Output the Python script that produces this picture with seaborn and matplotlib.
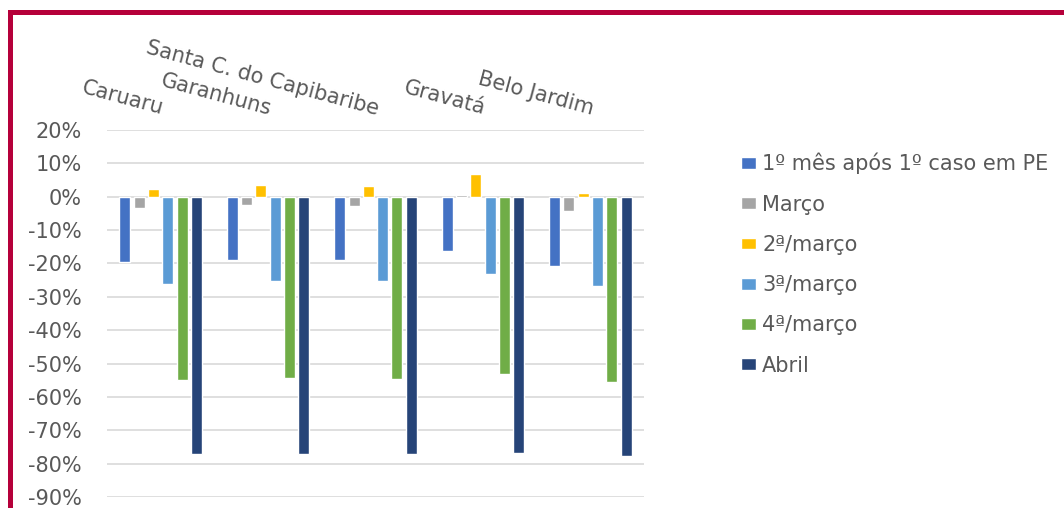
import matplotlib
matplotlib.use("Agg")
import matplotlib.pyplot as plt
from matplotlib.patches import Rectangle
from matplotlib.ticker import FuncFormatter
import pandas as pd
import seaborn as sns

# Municípios and periods compared
cidades = ["Caruaru", "Garanhuns", "Santa C. do Capibaribe", "Gravatá", "Belo Jardim"]
periodos = ["1º mês após 1º caso em PE", "Março", "2ª/março", "3ª/março", "4ª/março", "Abril"]

# Percentage change per period (fractions), one list per period
primeiro_mes = [-0.196, -0.189, -0.189, -0.162, -0.207]
marco = [-0.034, -0.024, -0.027, 0.005, -0.044]
segunda_marco = [0.024, 0.034, 0.031, 0.069, 0.012]
terceira_marco = [-0.261, -0.254, -0.254, -0.231, -0.268]
quarta_marco = [-0.550, -0.544, -0.547, -0.530, -0.555]
abril = [-0.772, -0.772, -0.772, -0.767, -0.776]

cores = ["#4472C4", "#A5A5A5", "#FFC000", "#5B9BD5", "#70AD47", "#264478"]
y_ticks = [-0.9, -0.8, -0.7, -0.6, -0.5, -0.4, -0.3, -0.2, -0.1, 0.0, 0.1, 0.2]

series = [primeiro_mes, marco, segunda_marco, terceira_marco, quarta_marco, abril]
df = pd.DataFrame(
    [(c, p, v) for p, vals in zip(periodos, series) for c, v in zip(cidades, vals)],
    columns=["cidade", "periodo", "valor"],
)

sns.set_style("white")
plt.rcParams["font.family"] = ["DejaVu Sans"]
texto = "#595959"
fs = 15

W, H = 1064, 508
fig = plt.figure(figsize=(W / 100, H / 100), dpi=100)
ax = fig.add_axes([107 / W, 1 - 497 / H, (644 - 107) / W, (497 - 130) / H])

sns.barplot(
    data=df, x="cidade", y="valor", hue="periodo",
    order=cidades, hue_order=periodos, palette=cores,
    width=0.80, gap=0.23, ax=ax, errorbar=None, saturation=1,
)

ax.set_ylim(-0.9, 0.2)
ax.set_yticks(y_ticks)
ax.yaxis.set_major_formatter(FuncFormatter(lambda v, _: f"{round(v * 100):d}%"))
ax.grid(axis="y", color="#D9D9D9", linewidth=1.2)
ax.set_axisbelow(True)
for s in ax.spines.values():
    s.set_visible(False)
ax.set_xlabel("")
ax.set_ylabel("")

# Category labels on top, slanted
ax.xaxis.tick_top()
ax.tick_params(axis="x", length=0, pad=8, labelsize=fs, labelcolor=texto)
ax.tick_params(axis="y", length=0, pad=18, labelsize=fs, labelcolor=texto)
for lbl in ax.get_xticklabels():
    lbl.set_rotation(-15)
    lbl.set_ha("right")
    lbl.set_va("bottom")
    lbl.set_rotation_mode("anchor")

handles, labels = ax.get_legend_handles_labels()
ax.get_legend().remove()
fig.legend(
    handles, labels, loc="upper left",
    bbox_to_anchor=(741 / W, 1 - 153 / H), frameon=False,
    fontsize=fs, labelcolor=texto, labelspacing=0.97,
    handlelength=0.72, handleheight=0.5, handletextpad=0.3,
    borderaxespad=0, borderpad=0,
)

# Frame in crimson
crimson = "#B5003A"
fig.add_artist(Rectangle((8 / W, 1 - 15 / H), 1, 5 / H, transform=fig.transFigure,
                         color=crimson, lw=0))
fig.add_artist(Rectangle((8 / W, -0.01), 5 / W, 1 - 10 / H + 0.01, transform=fig.transFigure,
                         color=crimson, lw=0))

fig.savefig("out.png", dpi=100, facecolor="white")
